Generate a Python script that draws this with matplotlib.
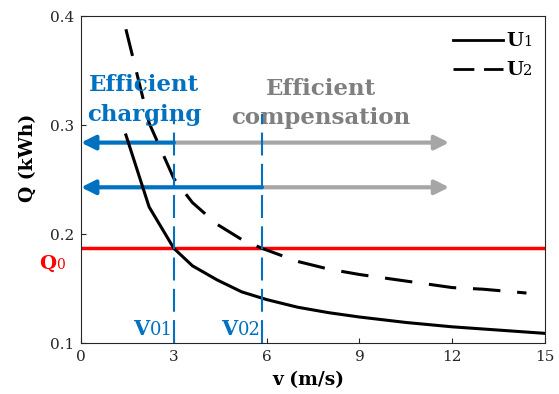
import matplotlib
matplotlib.use('Agg')
import matplotlib.pyplot as plt
from matplotlib.lines import Line2D
from matplotlib.offsetbox import (TextArea, HPacker, VPacker, DrawingArea,
                                  AnchoredOffsetbox, AnnotationBbox)

plt.rcParams['font.family'] = ['DejaVu Serif']

# energy Q (kWh) against wind speed v (m/s) for the two cases
v_u1 = [1.45, 2.2, 3.0, 3.6, 4.4, 5.2, 6.0, 7.0, 8.0, 9.0, 10.5, 12.0, 13.5, 15.0]
q_u1 = [0.291, 0.225, 0.187, 0.171, 0.158, 0.147, 0.140, 0.133, 0.128, 0.124,
        0.119, 0.115, 0.112, 0.109]
v_u2 = [1.45, 2.2, 3.0, 3.6, 4.4, 5.2, 5.85, 7.0, 8.0, 9.0, 10.0, 11.0, 12.0,
        13.0, 14.4]
q_u2 = [0.388, 0.302, 0.251, 0.229, 0.209, 0.195, 0.187, 0.175, 0.168, 0.163,
        0.159, 0.155, 0.151, 0.1495, 0.146]

q0 = 0.187            # threshold energy
v01, v02 = 3.0, 5.85  # crossing speeds of U1 and U2
arrow_q = [0.284, 0.243]
arrow_end = 11.9
vline_top = 0.31

blue = '#0070c0'
grey_txt = '#7f7f7f'
grey_arr = '#a6a6a6'
dark = '#262626'


def sub_label(base, sub, color, size_base, size_sub, bold_sub=False):
    return HPacker(children=[
        TextArea(base, textprops=dict(color=color, fontsize=size_base,
                                      fontweight='bold')),
        TextArea(sub, textprops=dict(color=color, fontsize=size_sub,
                                     fontweight='bold' if bold_sub else 'normal')),
    ], align='baseline', pad=0, sep=0)


def arrow(ax, x0, x1, y, color):
    ax.annotate('', xy=(x1, y), xytext=(x0, y), annotation_clip=False,
                arrowprops=dict(arrowstyle='-|>,head_length=0.6,head_width=0.3',
                                mutation_scale=14, lw=3, color=color,
                                shrinkA=0, shrinkB=0), zorder=2)


fig, ax = plt.subplots(figsize=(5.59, 3.94), dpi=100)
fig.subplots_adjust(left=0.145, right=0.975, bottom=0.129, top=0.959)

# charging / compensation ranges
for v_split, q in zip([v01, v02], arrow_q):
    arrow(ax, v_split, arrow_end, q, grey_arr)
    arrow(ax, v_split, 0, q, blue)

ax.axhline(q0, color='red', lw=2.5, zorder=2.5)

ax.plot(v_u1, q_u1, color='k', lw=2.2, zorder=3)
ax.plot(v_u2, q_u2, color='k', lw=2.2, linestyle=(0, (9, 5.5)), zorder=3)

ax.vlines([v01, v02], 0.1, vline_top, colors=blue, lw=1.5,
          linestyles=[(0, (11, 4))], zorder=4)

ax.text(2.04, 0.323, 'Efficient\ncharging', color=blue, fontsize=16.5,
        fontweight='bold', ha='center', va='center', linespacing=1.45)
ax.text(7.76, 0.320, 'Efficient\ncompensation', color=grey_txt, fontsize=16.5,
        fontweight='bold', ha='center', va='center', linespacing=1.45)

for v, sub in [(v01, '01'), (v02, '02')]:
    ab = AnnotationBbox(sub_label('V', sub, blue, 15, 13), (v, 0.1),
                        xybox=(-1, 3), boxcoords='offset points',
                        box_alignment=(1, 0), frameon=False, pad=0)
    ax.add_artist(ab)

q0_box = AnnotationBbox(sub_label('Q', '0', 'red', 14, 10), (-0.035, q0),
                        xycoords=('axes fraction', 'data'), xybox=(0, -5),
                        boxcoords='offset points', box_alignment=(1, 1),
                        frameon=False, pad=0, annotation_clip=False)
ax.add_artist(q0_box)

# legend
rows = []
for ls in ['-', (0, (7.5, 3.5))]:
    da = DrawingArea(36, 10, 0, 0)
    da.add_artist(Line2D([0, 36], [4, 4], color='k', lw=2, linestyle=ls))
    rows.append(da)
entries = [HPacker(children=[rows[i], sub_label('U', s, 'k', 14, 10.5)],
                   align='baseline', pad=0, sep=2)
           for i, s in enumerate(['1', '2'])]
leg = AnchoredOffsetbox(loc='upper right', child=VPacker(children=entries,
                        align='left', pad=0, sep=8), pad=0, borderpad=0,
                        frameon=False, bbox_to_anchor=(0.972, 0.952),
                        bbox_transform=ax.transAxes)
ax.add_artist(leg)

ax.set_xlim(0, 15)
ax.set_ylim(0.1, 0.4)
ax.set_xticks([0, 3, 6, 9, 12, 15])
ax.set_yticks([0.1, 0.2, 0.3, 0.4])
ax.set_yticklabels(['0.1', '0.2', '0.3', '0.4'])
ax.tick_params(direction='in', length=3.5, width=0.8, labelsize=11,
               labelcolor=dark, color=dark, pad=5)
for s in ax.spines.values():
    s.set_color(dark)
    s.set_linewidth(0.8)

ax.set_xlabel('v (m/s)', fontsize=13.5, fontweight='bold')
ax.set_ylabel('Q (kWh)', fontsize=13.5, fontweight='bold')
ax.xaxis.set_label_coords(0.49, -0.085)
ax.yaxis.set_label_coords(-0.095, 0.566)

fig.savefig('out.png', dpi=100)
